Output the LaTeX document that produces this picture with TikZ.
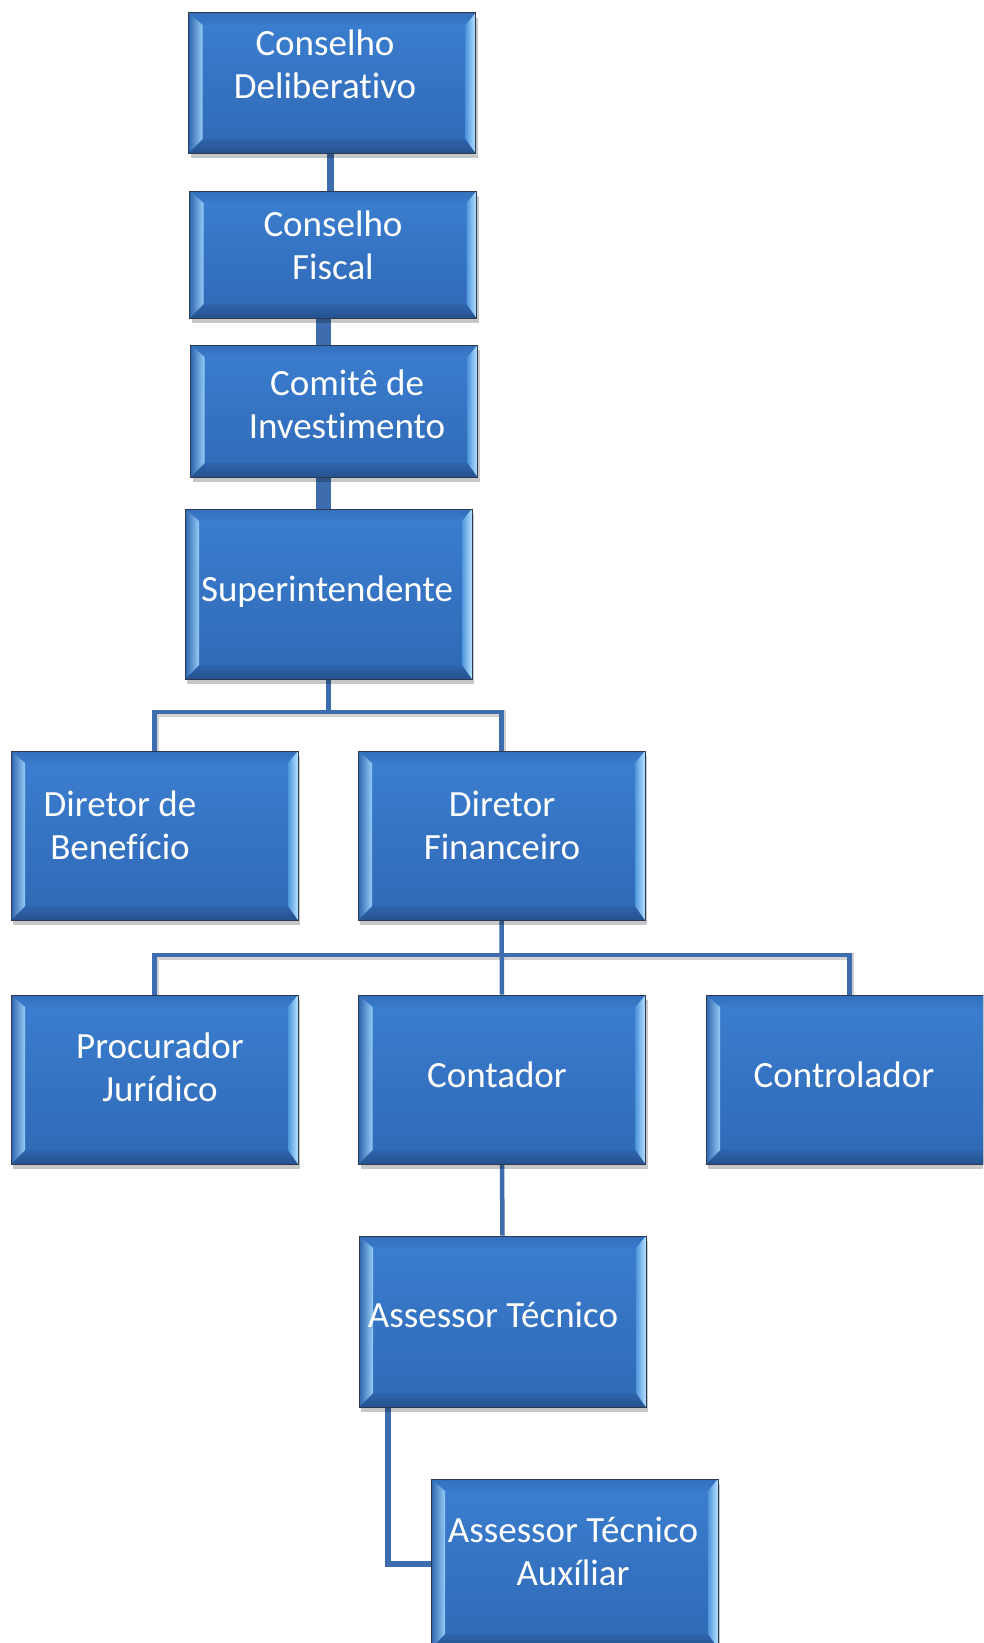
\documentclass[tikz,border=0pt]{standalone}
\usepackage{fontspec}
\setmainfont{Carlito}[Ligatures={NoCommon}]
\usetikzlibrary{shadows,calc}
\definecolor{bodytop}{HTML}{3B7ED0}
\definecolor{bodybot}{HTML}{2F69B5}
\definecolor{striptop}{HTML}{3270BD}
\definecolor{stripbot}{HTML}{3A7BCB}
\definecolor{botA}{HTML}{2E64AC}
\definecolor{botB}{HTML}{26528F}
\definecolor{leftA}{HTML}{2D64AE}
\definecolor{leftM}{HTML}{4585D0}
\definecolor{leftB}{HTML}{96CCF6}
\definecolor{rightA}{HTML}{4F95DE}
\definecolor{rightB}{HTML}{B8E2FF}
\definecolor{boxline}{HTML}{2B3A4E}
\definecolor{connc}{HTML}{3D6DAE}
\pgfdeclarelayer{bg}
\pgfdeclarelayer{lines}
\pgfsetlayers{bg,lines,main}
\newcommand{\bevelfill}{%
  \fill[top color=bodytop, bottom color=bodybot]
    (path picture bounding box.south west) rectangle (path picture bounding box.north east);
  \shade[top color=striptop, bottom color=stripbot]
    (path picture bounding box.north west) -- (path picture bounding box.north east)
    -- ([shift={(-10pt,-12pt)}]path picture bounding box.north east)
    -- ([shift={(14pt,-12pt)}]path picture bounding box.north west) -- cycle;
  \shade[top color=botA, bottom color=botB]
    (path picture bounding box.south west) -- (path picture bounding box.south east)
    -- ([shift={(-10pt,14pt)}]path picture bounding box.south east)
    -- ([shift={(14pt,14pt)}]path picture bounding box.south west) -- cycle;
  \shade[left color=leftA, middle color=leftM, right color=leftB]
    (path picture bounding box.south west) -- (path picture bounding box.north west)
    -- ([shift={(14pt,-12pt)}]path picture bounding box.north west)
    -- ([shift={(14pt,14pt)}]path picture bounding box.south west) -- cycle;
  \shade[left color=rightA, right color=rightB]
    (path picture bounding box.south east) -- (path picture bounding box.north east)
    -- ([shift={(-10pt,-12pt)}]path picture bounding box.north east)
    -- ([shift={(-10pt,14pt)}]path picture bounding box.south east) -- cycle;
}
\tikzset{
  orgbox/.style={draw=boxline, line width=1pt, minimum width=287pt, inner sep=0pt,
    drop shadow={shadow xshift=2pt, shadow yshift=-5pt, fill=black, opacity=0.22},
    path picture={\bevelfill}},
  lbl/.style={text=white, align=center, inner sep=0pt,
    font=\fontsize{37pt}{43pt}\selectfont},
  conn/.style={draw=connc},
  tconn/.style={draw=connc, line width=4.5pt},
  tshadow/.style={draw=black!18, line width=7pt}
}
\begin{document}
\begin{tikzpicture}[x=1pt,y=-1pt]
\useasboundingbox (0,0) rectangle (983,1643);
\begin{pgfonlayer}{bg}
  \fill[white] (0,0) rectangle (983,1643);
\end{pgfonlayer}
\clip (0,0) rectangle (983,1643);

% boxes
\node[orgbox, minimum height=140pt] (cd) at (332,83) {};
\node[orgbox, minimum height=127pt] (cf) at (333,254.5) {};
\node[orgbox, minimum height=132pt] (ci) at (334,411) {};
\node[orgbox, minimum height=170pt] (sup) at (328.5,594) {};
\node[orgbox, minimum height=169pt] (db) at (154.5,835.5) {};
\node[orgbox, minimum height=169pt] (df) at (501.5,835.5) {};
\node[orgbox, minimum height=169pt] (pj) at (154.5,1079.5) {};
\node[orgbox, minimum height=169pt] (cont) at (502,1079.5) {};
\node[orgbox, minimum height=169pt] (ctrl) at (849.5,1079.5) {};
\node[orgbox, minimum height=171pt] (at) at (502.5,1321.5) {};
\node[orgbox, minimum height=169pt] (ata) at (574.5,1563.5) {};

% labels
\node[lbl] (cd-t) at (325,64) {Conselho\\Deliberativo};
\node[lbl] (cf-t) at (333,245) {Conselho\\Fiscal};
\node[lbl] (ci-t) at (347,404) {Comitê de\\Investimento};
\node[lbl] (sup-t) at (327,592) {Superintendente};
\node[lbl] (db-t) at (120,825) {Diretor de\\Benefício};
\node[lbl] (df-t) at (502,825) {Diretor\\Financeiro};
\node[lbl] (pj-t) at (160,1067) {Procurador\\Jurídico};
\node[lbl] (cont-t) at (497,1075) {Contador};
\node[lbl] (ctrl-t) at (844,1075) {Controlador};
\node[lbl] (at-t) at (493,1315) {Assessor Técnico};
\node[lbl] (ata-t) at (573,1551) {Assessor Técnico\\Auxíliar};

% helper coordinates
\coordinate (v330) at (330,0);
\coordinate (v323) at (323,0);
\coordinate (j1) at (329,712);
\coordinate (j2) at (502,955);
\coordinate (j3) at (388,1563.5);

\begin{pgfonlayer}{lines}
  % soft shadows under the thin connectors
  \begin{scope}[transform canvas={shift={(1pt,-1.5pt)}}]
    \draw[tshadow] (db.north) |- (j1) -| (df.north);
    \draw[tshadow] (pj.north) |- (j2) -| (ctrl.north);
  \end{scope}
  \draw[conn, line width=7pt] (cd.south -| v330) -- (cf.north -| v330);
  \draw[conn, line width=15pt] (cf.south -| v323) -- (ci.north -| v323);
  \draw[conn, line width=15pt] (ci.south -| v323) -- (sup.north -| v323);
  \draw[tconn] (sup.south) -- (sup.south |- j1);
  \draw[tconn] (db.north) |- (j1) -| (df.north);
  \draw[tconn] (df.south) -- (cont.north);
  \draw[tconn] (pj.north) |- (j2) -| (ctrl.north);
  \draw[tconn] (cont.south) -- (at.north);
  \draw[tconn, line width=6pt] (at.south -| j3) |- (ata.west);
\end{pgfonlayer}
\end{tikzpicture}
\end{document}
